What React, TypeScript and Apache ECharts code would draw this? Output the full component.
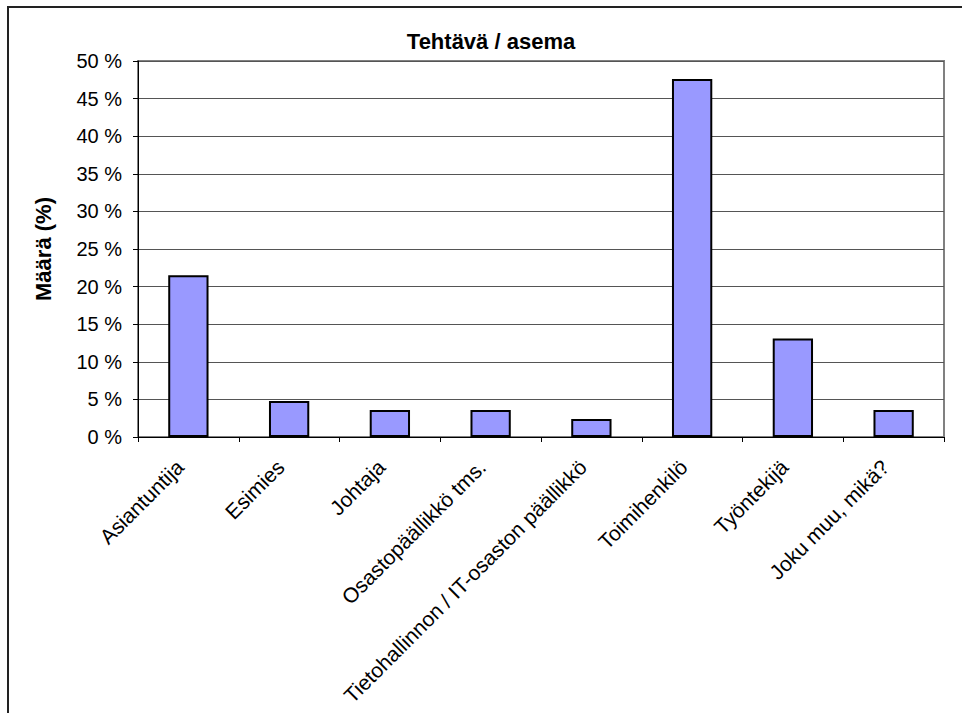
import React, { useEffect, useRef } from "react";
import * as echarts from "echarts";

const categories = [
  "Asiantuntija",
  "Esimies",
  "Johtaja",
  "Osastopäällikkö tms.",
  "Tietohallinnon / IT-osaston päällikkö",
  "Toimihenkilö",
  "Työntekijä",
  "Joku muu, mikä?",
];
const values = [21.5, 4.8, 3.6, 3.6, 2.4, 47.6, 13.1, 3.6];
const chartTitle = "Tehtävä / asema";
const yName = "Määrä (%)";
const xName = "Asema";

const FONT = "'Liberation Sans', Arial, sans-serif";

export default function App() {
  const ref = useRef<HTMLDivElement>(null);
  useEffect(() => {
    if (!ref.current) return;
    const chart = echarts.init(ref.current, null, { renderer: "svg" });
    chart.setOption({
      animation: false,
      backgroundColor: "#ffffff",
      textStyle: { fontFamily: FONT },
      graphic: [
        {
          type: "rect",
          z: -1,
          shape: { x: 8, y: 7, width: 1000, height: 1000 },
          style: { fill: "none", stroke: "#222", lineWidth: 2 },
        },
        {
          type: "text",
          x: 491,
          y: 41,
          style: {
            text: chartTitle,
            fontFamily: FONT,
            fontSize: 22,
            fontWeight: "bold",
            fill: "#000",
            textAlign: "center",
            textVerticalAlign: "middle",
          },
        },
      ],
      grid: {
        left: 138,
        top: 61,
        right: 18,
        bottom: 276,
        containLabel: false,
        outerBoundsMode: "none",
        show: true,
        borderColor: "#808080",
        borderWidth: 2,
        backgroundColor: "#ffffff",
      },
      xAxis: {
        type: "category",
        data: categories,
        name: xName,
        nameLocation: "middle",
        nameGap: 250,
        nameTextStyle: { fontFamily: FONT, fontSize: 22, fontWeight: "bold", color: "#000" },
        axisLine: { show: true, lineStyle: { color: "#000", width: 1 } },
        axisTick: { show: true, alignWithLabel: false, length: 5, lineStyle: { color: "#000" } },
        axisLabel: {
          interval: 0,
          rotate: 45,
          margin: 18,
          padding: [0, 12, 0, 0],
          fontFamily: FONT,
          fontSize: 21,
          color: "#000",
        },
        splitLine: { show: false },
      },
      yAxis: {
        type: "value",
        min: 0,
        max: 50,
        interval: 5,
        name: yName,
        nameLocation: "middle",
        nameGap: 84,
        nameRotate: 90,
        nameTextStyle: { fontFamily: FONT, fontSize: 22, fontWeight: "bold", color: "#000" },
        axisLine: { show: true, lineStyle: { color: "#000", width: 1 } },
        axisTick: { show: true, length: 5, lineStyle: { color: "#000" } },
        axisLabel: {
          formatter: "{value} %",
          margin: 16,
          fontFamily: FONT,
          fontSize: 20,
          color: "#000",
        },
        splitLine: { show: true, lineStyle: { color: "#555", width: 1 } },
      },
      series: [
        {
          type: "bar",
          data: values,
          barWidth: "40%",
          itemStyle: { color: "#9999FF", borderColor: "#000", borderWidth: 2 },
        },
      ],
    });
    return () => chart.dispose();
  }, []);
  return (
    <div
      ref={ref}
      style={{ position: "fixed", left: 0, top: 0, width: 962, height: 713 }}
    />
  );
}
